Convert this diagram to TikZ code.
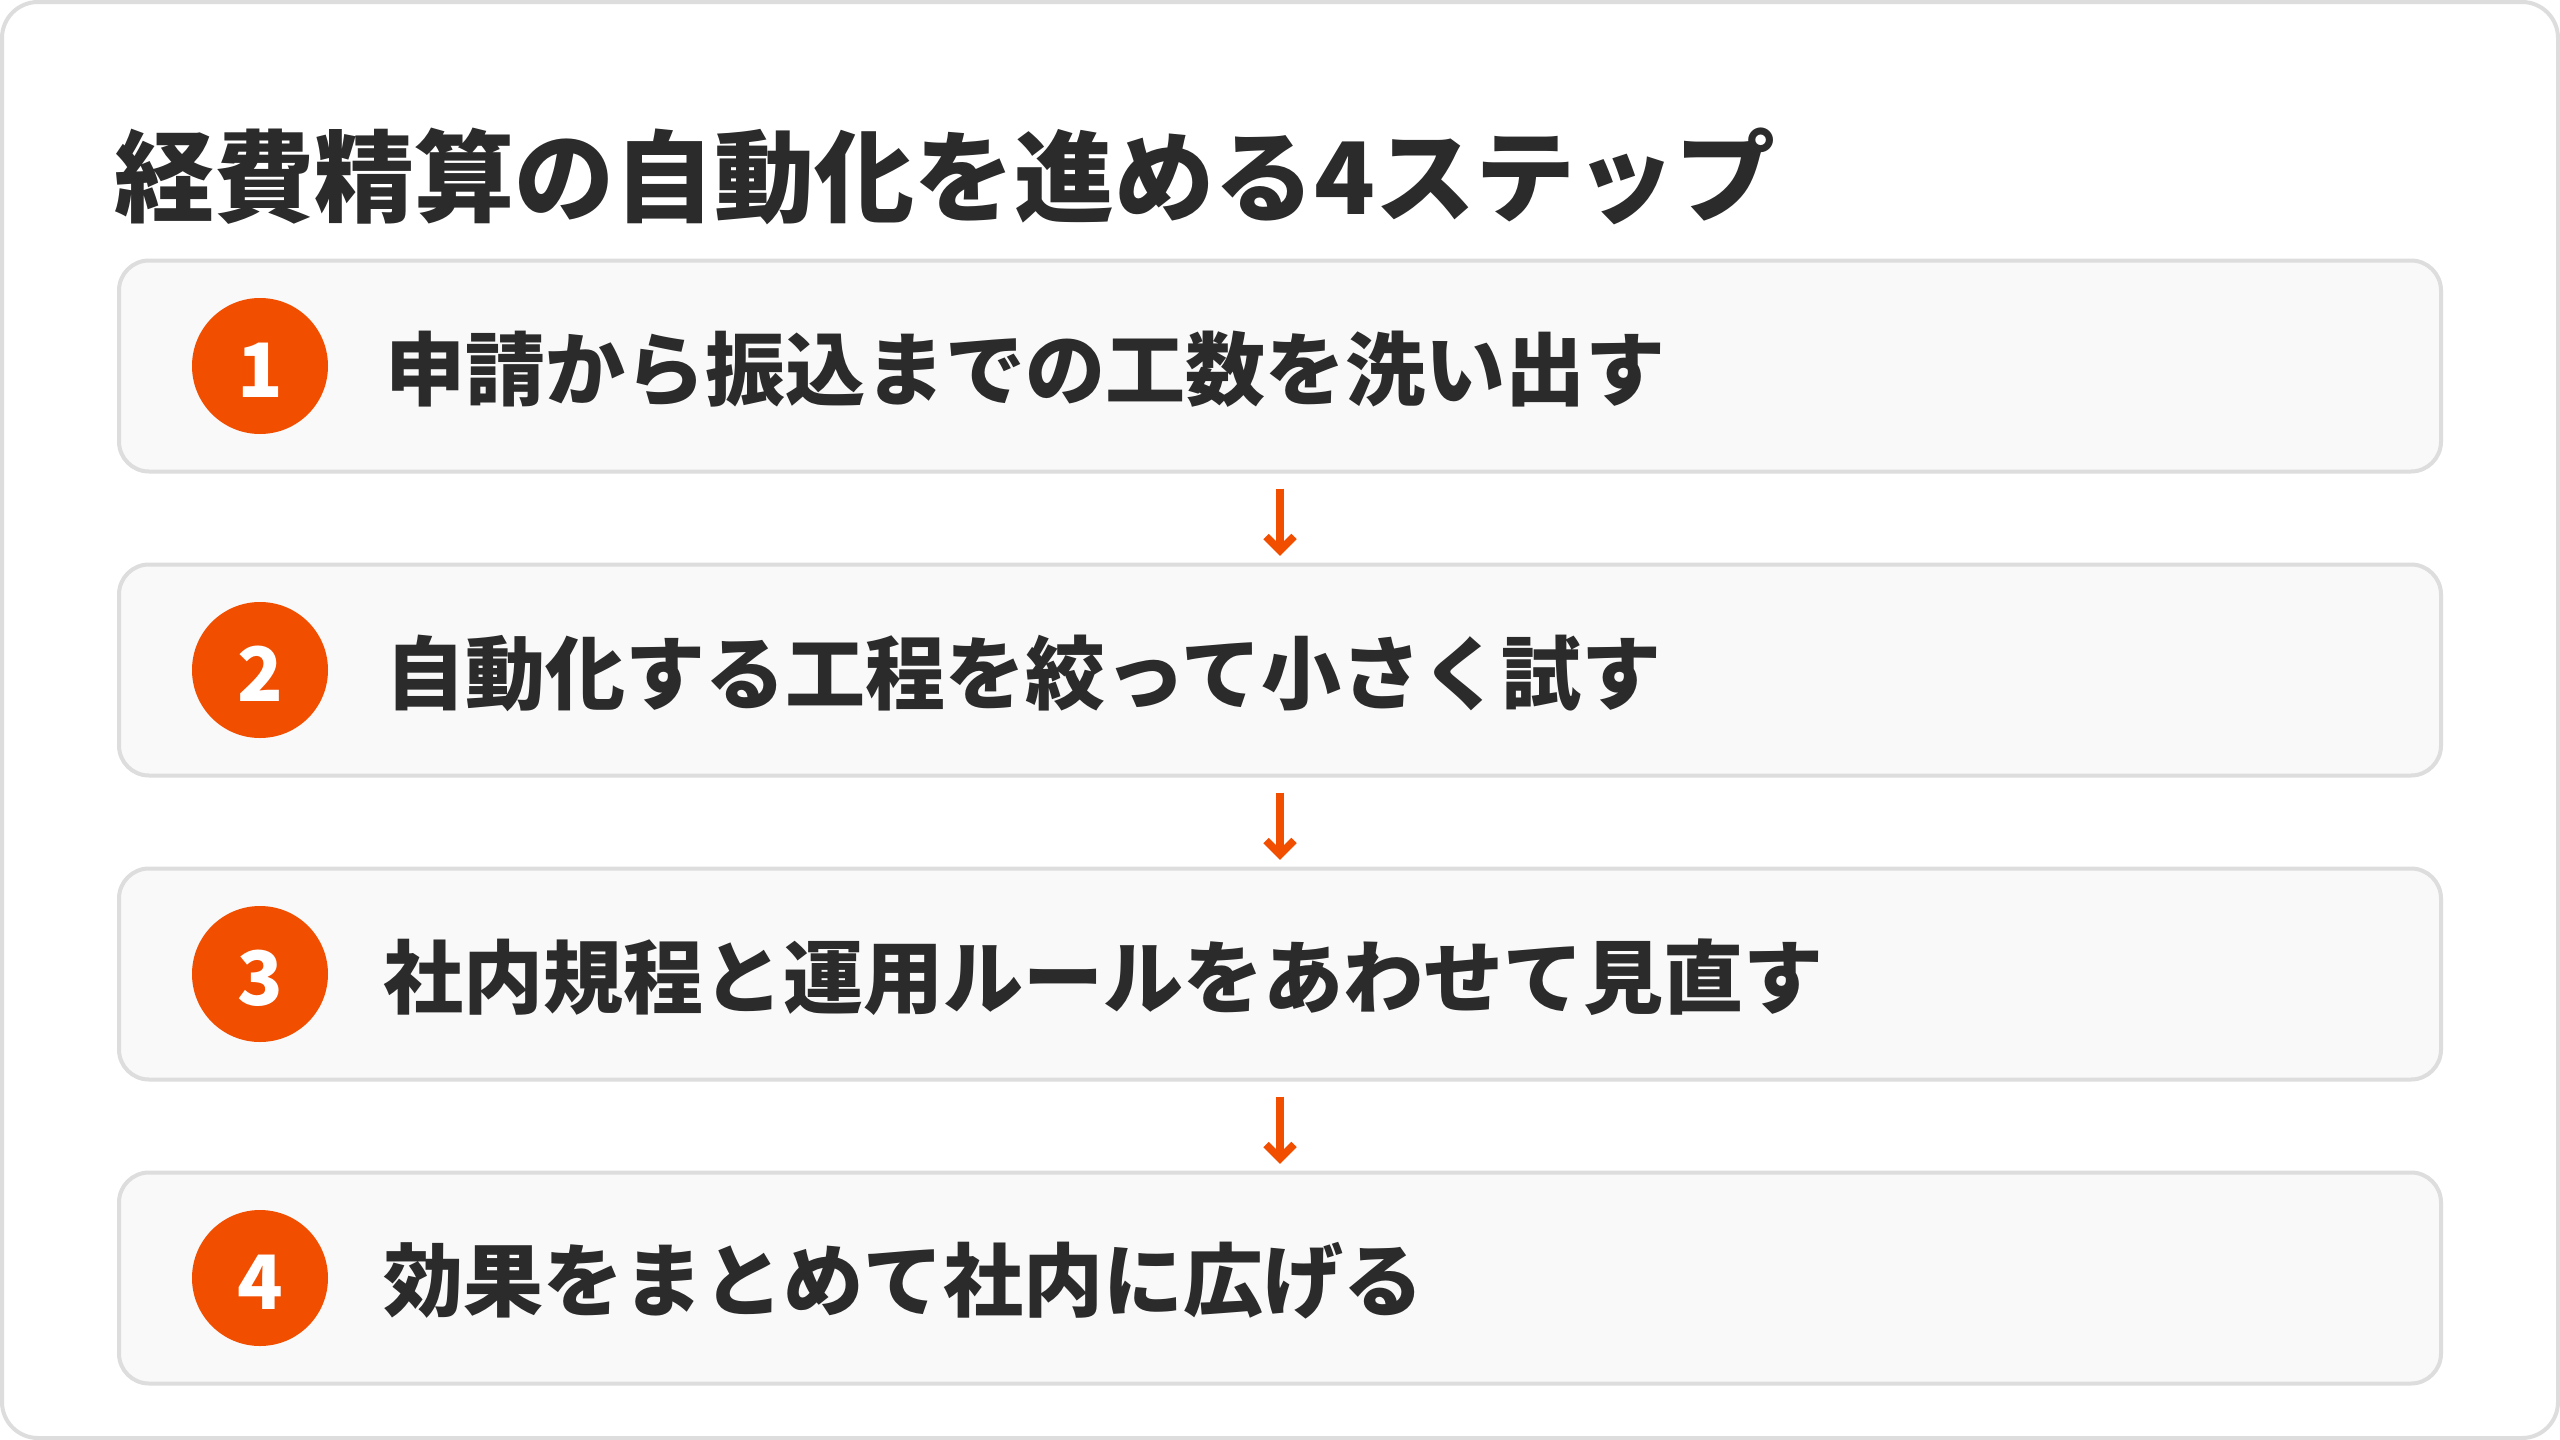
\documentclass[tikz,border=0pt]{standalone}
\usepackage{fontspec}
\setmainfont{Noto Sans CJK JP}
\usetikzlibrary{calc}
\definecolor{lineC}{HTML}{DDDDDD}
\definecolor{boxC}{HTML}{F9F9F9}
\definecolor{orangeC}{HTML}{F24E00}
\definecolor{textC}{HTML}{2B2B2B}
\begin{document}
\begin{tikzpicture}[x=1pt,y=-1pt,
  frame/.style={draw=lineC,line width=4pt,fill=white,rounded corners=36pt},
  stepbox/.style={draw=lineC,line width=4pt,fill=boxC,rounded corners=30pt,
    rectangle,minimum width=2322pt,minimum height=211pt,inner sep=0pt,outer sep=0pt},
  numc/.style={circle,fill=orangeC,minimum size=136pt,inner sep=0pt,outer sep=0pt},
  numtext/.style={inner sep=0pt,text=white,font=\fontsize{75}{80}\selectfont\bfseries},
  steptext/.style={anchor=west,inner sep=0pt,text=textC,
    font=\fontsize{80}{90}\selectfont\bfseries},
  titletext/.style={anchor=west,inner sep=0pt,text=textC,
    font=\fontsize{100}{110}\selectfont\bfseries},
  arrline/.style={draw=orangeC,line width=7.5pt},
  chev/.style={draw=orangeC,line width=7.5pt,miter limit=10}]
\useasboundingbox (0,0) rectangle (2560,1440);
\draw[frame] (2,2) rectangle (2558,1438);
\node[titletext] (title) at (114,176) {経費精算の自動化を進める4ステップ};
\node[stepbox] (b1) at (1280,366) {};
\node[stepbox] (b2) at (1280,670) {};
\node[stepbox] (b3) at (1280,974) {};
\node[stepbox] (b4) at (1280,1278) {};
\node[numc] (n1) at (260,366) {};
\node[numc] (n2) at (260,670) {};
\node[numc] (n3) at (260,974) {};
\node[numc] (n4) at (260,1278) {};
\node[numtext] (d1) at ([yshift=-4pt]n1.center) {1};
\node[numtext] (d2) at ([yshift=-4pt]n2.center) {2};
\node[numtext] (d3) at ([yshift=-4pt]n3.center) {3};
\node[numtext] (d4) at ([yshift=-4pt]n4.center) {4};
\node[steptext] (t1) at (385,369) {申請から振込までの工数を洗い出す};
\node[steptext] (t2) at (385,673) {自動化する工程を絞って小さく試す};
\node[steptext] (t3) at (383,977) {社内規程と運用ルールをあわせて見直す};
\node[steptext] (t4) at (383,1281) {効果をまとめて社内に広げる};
\foreach \a/\b in {b1/b2,b2/b3,b3/b4}{
  \coordinate (s-\a) at ([yshift=-17pt]\a.south);
  \coordinate (e-\a) at ([yshift=14pt]\b.north);
  \draw[arrline] (s-\a) -- (e-\a);
  \draw[chev] ($(e-\a)+(-14pt,14pt)$) -- (e-\a) -- ($(e-\a)+(14pt,14pt)$);
}
\end{tikzpicture}
\end{document}
